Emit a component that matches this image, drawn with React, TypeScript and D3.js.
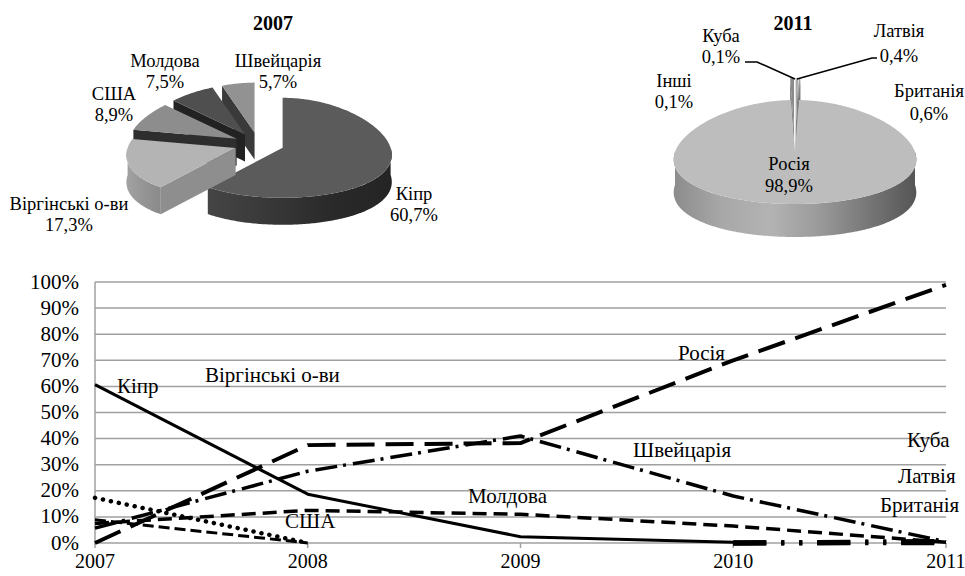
import React from 'react';
import * as d3 from 'd3';

const FONT = "'Liberation Serif', 'Times New Roman', 'DejaVu Serif', serif";

// ---- 2007 structure (pie) ----
const pie2007Labels = ['Кіпр', 'Віргінські о-ви', 'США', 'Молдова', 'Швейцарія'];
const pie2007Values = [60.7, 17.3, 8.9, 7.5, 5.7];

// ---- 2011 structure (pie) ----
const pie2011Labels = ['Британія', 'Латвія', 'Куба', 'Інші', 'Росія'];
const pie2011Values = [0.6, 0.4, 0.1, 0.1, 98.9];

// ---- dynamics 2007–2011, % ----
const years = [2007, 2008, 2009, 2010, 2011];
const yTicks = [0, 10, 20, 30, 40, 50, 60, 70, 80, 90, 100];
const cyprus = [60.7, 18.7, 2.4, 0.3, null];
const russia = [0, 37.5, 38.3, 70, 98.9];
const switzerland = [5.7, 27.5, 41, 18, 0.5];
const moldova = [7.5, 12.5, 11, 6.5, 0.3];
const usa = [8.9, 0, null, null, null];
const virginIslands = [17.3, 0, null, null, null];
const latvia = [null, null, null, 0, 0.4];
const cuba = [null, null, null, 0, 0.1];
const britain = [null, null, null, 0, 0.6];

type Pt = [number, number];

const fmt = (v: number) => String(v).replace('.', ',') + '%';

function rimPts(ox: number, oy: number, rx: number, ry: number, p: number, a0: number, a1: number, h = 0): Pt[] {
  const n = Math.max(2, Math.ceil(Math.abs(a1 - a0) / 0.015) + 1);
  return d3.range(n).map((i) => {
    const a = a0 + ((a1 - a0) * i) / (n - 1);
    const u = Math.sin(a);
    const v = -Math.cos(a);
    return [ox + rx * u * (1 + p * v), oy + ry * v + h] as Pt;
  });
}

const poly = (pts: Pt[]) => 'M' + pts.map((q) => q[0].toFixed(2) + ',' + q[1].toFixed(2)).join('L') + 'Z';

type SliceStyle = { top: string; wall: string; face: string; explode: number };

function Pie3D(props: {
  id: string;
  cx: number;
  cy: number;
  rx: number;
  ry: number;
  depth: number;
  persp: number;
  values: number[];
  styles: SliceStyle[];
  startAngle: number;
  order: number[];
}) {
  const { id, cx, cy, rx, ry, depth, persp, values, styles, startAngle, order } = props;
  const arcs = d3
    .pie<number>()
    .sort(null)
    .value((d) => d)
    .startAngle(startAngle)
    .endAngle(startAngle + Math.PI * 2)(values);
  const k = ry / rx;
  const front = [Math.PI / 2, (3 * Math.PI) / 2];

  const parts = order.map((i) => {
    const a = arcs[i];
    const st = styles[i];
    const mid = (a.startAngle + a.endAngle) / 2;
    const ox = cx + st.explode * Math.sin(mid);
    const oy = cy - st.explode * Math.cos(mid) * k;
    const apex: Pt = [ox, oy];
    const els: React.ReactNode[] = [];

    // outer wall, front half only
    [-2 * Math.PI, 0, 2 * Math.PI].forEach((shift, si) => {
      const s = Math.max(a.startAngle, front[0] + shift);
      const e = Math.min(a.endAngle, front[1] + shift);
      if (e > s) {
        const topArc = rimPts(ox, oy, rx, ry, persp, s, e);
        const botArc = rimPts(ox, oy, rx, ry, persp, e, s, depth);
        els.push(<path key={'w' + si} d={poly([...topArc, ...botArc])} fill={`url(#${id}-wall-${i})`} />);
      }
    });

    // radial faces that turn toward the viewer
    const faces: [number, number][] = [
      [a.startAngle, a.startAngle - Math.PI / 2],
      [a.endAngle, a.endAngle + Math.PI / 2],
    ];
    faces.forEach(([ang, nrm], fi) => {
      if (Math.cos(nrm) < -1e-6 && a.endAngle - a.startAngle < Math.PI * 2 - 1e-6) {
        const r = rimPts(ox, oy, rx, ry, persp, ang, ang)[0];
        els.push(
          <path
            key={'f' + fi}
            d={poly([apex, r, [r[0], r[1] + depth], [apex[0], apex[1] + depth]])}
            fill={st.face}
          />
        );
      }
    });

    // top surface
    const top = rimPts(ox, oy, rx, ry, persp, a.startAngle, a.endAngle);
    els.push(<path key="t" d={poly([apex, ...top])} fill={st.top} />);
    return <g key={i}>{els}</g>;
  });

  return (
    <g>
      <defs>
        {styles.map((st, i) => (
          <linearGradient key={i} id={`${id}-wall-${i}`} x1="0" x2="1" y1="0" y2="0">
            {st.wall.split(' ').map((c, j, arr) => (
              <stop key={j} offset={arr.length === 1 ? 0 : j / (arr.length - 1)} stopColor={c} />
            ))}
          </linearGradient>
        ))}
      </defs>
      {parts}
    </g>
  );
}

const styles2007: SliceStyle[] = [
  { top: '#5b5b5b', wall: '#454545 #383838 #2a2a2a #242424', face: '#353535', explode: 25 },
  { top: '#b4b4b4', wall: '#a2a2a2 #959595 #8a8a8a', face: '#8e8e8e', explode: 25 },
  { top: '#8d8d8d', wall: '#3a3a3a', face: '#2e2e2e', explode: 25 },
  { top: '#4f4f4f', wall: '#2a2a2a', face: '#222222', explode: 25 },
  { top: '#929292', wall: '#3f3f3f', face: '#3a3a3a', explode: 25 },
];

const styles2011: SliceStyle[] = [
  { top: '#8a8a8a', wall: '#6a6a6a', face: '#6e6e6e', explode: 50 },
  { top: '#a8a8a8', wall: '#7a7a7a', face: '#7f7f7f', explode: 50 },
  { top: '#6a6a6a', wall: '#555555', face: '#5a5a5a', explode: 50 },
  { top: '#c8c8c8', wall: '#909090', face: '#959595', explode: 50 },
  { top: '#bdbdbd', wall: '#8c8c8c #a8a8a8 #b3b3b3 #9a9a9a #777777 #555555', face: '#9a9a9a', explode: 0 },
];

type Series = { name: string; values: (number | null)[] };
const series: Series[] = [
  { name: 'Латвія', values: latvia },
  { name: 'Куба', values: cuba },
  { name: 'Британія', values: britain },
  { name: 'Віргінські о-ви', values: virginIslands },
  { name: 'США', values: usa },
  { name: 'Молдова', values: moldova },
  { name: 'Швейцарія', values: switzerland },
  { name: 'Росія', values: russia },
  { name: 'Кіпр', values: cyprus },
];

const lineStyle: Record<string, { dash?: string; width: number; cap?: 'round' | 'butt' }> = {
  'Кіпр': { width: 3 },
  'Росія': { dash: '28 11', width: 4 },
  'Швейцарія': { dash: '22 6 3 7', width: 3.5 },
  'Молдова': { dash: '14 7', width: 3.5 },
  'США': { dash: '11 5', width: 3 },
  'Віргінські о-ви': { dash: '0.1 8', width: 4.5, cap: 'round' },
  'Британія': { dash: '33 15 3 15 3 15', width: 5 },
  'Латвія': { dash: '33 15 3 15 3 15', width: 5 },
  'Куба': { dash: '33 15 3 15 3 15', width: 5 },
};

// annotation placement inside the line chart (start x, baseline y)
const lineLabelPos: Record<string, Pt> = {
  'Кіпр': [117, 393],
  'Віргінські о-ви': [205, 382],
  'Росія': [678, 360],
  'Швейцарія': [633, 457],
  'Молдова': [468, 503],
  'США': [285, 528],
  'Куба': [907, 447],
  'Латвія': [898, 483],
  'Британія': [880, 512],
};

// label placement around the pies (centre x, baseline of first line)
const pie2007LabelPos: Pt[] = [
  [414, 200],
  [69, 210],
  [114, 100],
  [165, 67],
  [278, 67],
];
const pie2011LabelPos: Pt[] = [
  [929, 97],
  [899, 37],
  [721, 42],
  [674, 87],
  [789, 170],
];
const pie2011SecondLine = [23, 25, 21, 21, 22];

export default function App() {
  const x = d3.scaleLinear().domain([2007, 2011]).range([95, 946]);
  const y = d3.scaleLinear().domain([0, 100]).range([543, 282]);
  const line = d3
    .line<number | null>()
    .defined((d) => d !== null)
    .x((_, i) => x(years[i]))
    .y((d) => y(d as number));

  const small2011 = pie2011Values.slice(0, 4).reduce((s, v) => s + v, 0);
  const start2011 = -((small2011 / 100) * Math.PI * 2) / 2;
  const txt = { fontFamily: FONT };

  return (
    <svg
      width={965}
      height={576}
      style={{ position: 'absolute', left: 0, top: 0, background: '#fff', fontFamily: FONT }}
    >
      <rect width={965} height={576} fill="#fff" />

      {/* 2007 pie */}
      <text x={273} y={30} fontSize={20} fontWeight="bold" textAnchor="middle" style={txt}>
        2007
      </text>
      <Pie3D
        id="p07"
        cx={259}
        cy={144}
        rx={108}
        ry={50}
        depth={27}
        persp={0.15}
        values={pie2007Values}
        styles={styles2007}
        startAngle={0}
        order={[4, 3, 2, 0, 1]}
      />
      {pie2007Labels.map((lab, i) => (
        <text key={lab} x={pie2007LabelPos[i][0]} y={pie2007LabelPos[i][1]} fontSize={18.5} textAnchor="middle" style={txt}>
          <tspan x={pie2007LabelPos[i][0]}>{lab}</tspan>
          <tspan x={pie2007LabelPos[i][0]} dy={20.5}>
            {fmt(pie2007Values[i])}
          </tspan>
        </text>
      ))}

      {/* 2011 pie */}
      <text x={793} y={30} fontSize={20} fontWeight="bold" textAnchor="middle" style={txt}>
        2011
      </text>
      <Pie3D
        id="p11"
        cx={795}
        cy={152}
        rx={120}
        ry={52}
        depth={33}
        persp={0.15}
        values={pie2011Values}
        styles={styles2011}
        startAngle={start2011}
        order={[3, 2, 1, 0, 4]}
      />
      <polyline points="745,62 757,62 795,79" fill="none" stroke="#000" strokeWidth={1.6} />
      <polyline points="797,79 872,58 877,58" fill="none" stroke="#000" strokeWidth={1.6} />
      {pie2011Labels.map((lab, i) => (
        <text key={lab} x={pie2011LabelPos[i][0]} y={pie2011LabelPos[i][1]} fontSize={18.5} textAnchor="middle" style={txt}>
          <tspan x={pie2011LabelPos[i][0]}>{lab}</tspan>
          <tspan x={pie2011LabelPos[i][0]} dy={pie2011SecondLine[i]}>
            {fmt(pie2011Values[i])}
          </tspan>
        </text>
      ))}

      {/* line chart */}
      <g>
        {yTicks.map((t) => (
          <line key={t} x1={x(2007)} x2={x(2011)} y1={y(t)} y2={y(t)} stroke="#a0a0a0" strokeWidth={1.5} />
        ))}
        <line x1={x(2007)} x2={x(2007)} y1={y(100)} y2={y(0)} stroke="#a0a0a0" strokeWidth={1.5} />
        {years.map((yr) => (
          <line key={yr} x1={x(yr)} x2={x(yr)} y1={y(0)} y2={y(0) + 5} stroke="#a0a0a0" strokeWidth={1.5} />
        ))}
        {yTicks.map((t) => (
          <text key={t} x={79} y={y(t) + 6.5} fontSize={21} textAnchor="end" style={txt}>
            {t}%
          </text>
        ))}
        {years.map((yr) => (
          <text key={yr} x={x(yr)} y={568} fontSize={20} textAnchor="middle" style={txt}>
            {yr}
          </text>
        ))}
        {series.map((s) => {
          const st = lineStyle[s.name];
          return (
            <path
              key={s.name}
              d={line(s.values) || ''}
              fill="none"
              stroke="#000"
              strokeWidth={st.width}
              strokeDasharray={st.dash}
              strokeLinecap={st.cap || 'butt'}
              strokeLinejoin="round"
            />
          );
        })}
        {series.map((s) => (
          <text key={s.name} x={lineLabelPos[s.name][0]} y={lineLabelPos[s.name][1]} fontSize={21} style={txt}>
            {s.name}
          </text>
        ))}
      </g>
    </svg>
  );
}
